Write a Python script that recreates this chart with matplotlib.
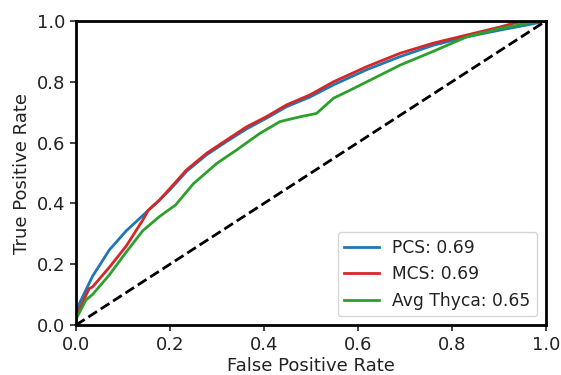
import matplotlib
matplotlib.use("Agg")
import matplotlib.pyplot as plt

# ROC points
pcs_fpr = [0.0, 0.0, 0.007, 0.035, 0.071, 0.107, 0.142, 0.177, 0.2, 0.235, 0.278, 0.32,
           0.363, 0.405, 0.448, 0.498, 0.548, 0.619, 0.69, 0.76, 0.832, 0.902, 0.97, 1.0]
pcs_tpr = [0.0, 0.04, 0.07, 0.16, 0.247, 0.31, 0.36, 0.41, 0.445, 0.505, 0.56, 0.603,
           0.645, 0.68, 0.718, 0.75, 0.79, 0.84, 0.883, 0.92, 0.948, 0.97, 0.99, 1.0]

mcs_fpr = [0.0, 0.0, 0.007, 0.028, 0.035, 0.071, 0.107, 0.142, 0.154, 0.177, 0.212, 0.235,
           0.278, 0.32, 0.363, 0.405, 0.448, 0.498, 0.548, 0.619, 0.69, 0.76, 0.832,
           0.902, 0.937, 1.0]
mcs_tpr = [0.0, 0.03, 0.05, 0.12, 0.125, 0.19, 0.26, 0.345, 0.378, 0.41, 0.47, 0.51,
           0.565, 0.608, 0.652, 0.685, 0.724, 0.757, 0.80, 0.85, 0.894, 0.927, 0.954,
           0.98, 0.995, 1.0]

thyca_fpr = [0.0, 0.0, 0.007, 0.021, 0.035, 0.071, 0.107, 0.142, 0.177, 0.212, 0.25, 0.3,
             0.342, 0.391, 0.434, 0.477, 0.512, 0.548, 0.584, 0.619, 0.69, 0.76, 0.832,
             0.902, 0.97, 1.0]
thyca_tpr = [0.0, 0.02, 0.04, 0.082, 0.1, 0.165, 0.24, 0.31, 0.356, 0.395, 0.465, 0.532,
             0.576, 0.63, 0.669, 0.685, 0.696, 0.746, 0.773, 0.80, 0.855, 0.9, 0.948,
             0.975, 0.995, 1.0]

labels = ["PCS: 0.69", "MCS: 0.69", "Avg Thyca: 0.65"]

plt.rcParams["font.size"] = 13
plt.rcParams["text.color"] = "#222222"
plt.rcParams["xtick.color"] = "#222222"
plt.rcParams["ytick.color"] = "#222222"
plt.rcParams["axes.labelcolor"] = "#222222"

fig = plt.figure(figsize=(5.61, 3.75), dpi=100)
ax = fig.add_axes([0.1355, 0.1333, 0.8375, 0.8107])

ax.plot(pcs_fpr, pcs_tpr, color="#1f77b4", lw=2, label=labels[0])
ax.plot(mcs_fpr, mcs_tpr, color="#d62728", lw=2, label=labels[1])
ax.plot(thyca_fpr, thyca_tpr, color="#2ca02c", lw=2, label=labels[2])
ax.plot([0, 1], [0, 1], "k--", lw=2)

ax.set_xlim(0, 1)
ax.set_ylim(0, 1)
ax.set_xlabel("False Positive Rate", fontsize=13, labelpad=2)
ax.set_ylabel("True Positive Rate", fontsize=13)
ax.tick_params(labelsize=13, length=4.5, width=1.2)
for s in ax.spines.values():
    s.set_linewidth(2)
ax.legend(loc="lower right", fontsize=12.3, handlelength=2.0)

fig.savefig("out.png", dpi=100)
